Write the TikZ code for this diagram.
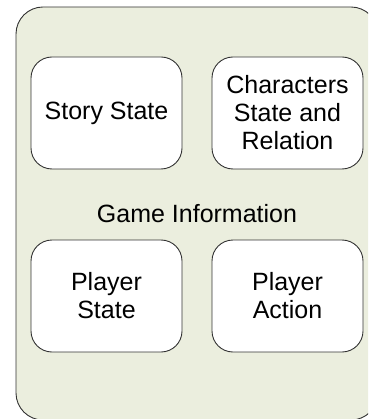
\documentclass[tikz,border=0pt]{standalone}
\usepackage{fontspec}
\setmainfont{Liberation Sans}
\definecolor{infofill}{RGB}{235,238,222}
\begin{document}
\begin{tikzpicture}[x=1pt,y=-1pt]
        \tikzstyle{infobox}=[rectangle,rounded corners=27pt,line width=0.9pt,draw=black!80,fill=infofill,minimum width=362pt,minimum height=413pt,inner sep=0pt]
        \tikzstyle{part}=[rectangle,rounded corners=21pt,line width=0.9pt,draw=black!80,fill=white,minimum width=151pt,minimum height=112pt,align=center,inner sep=0pt]
        \useasboundingbox (0,0) rectangle (368,419);
        \clip (0,0) rectangle (368,419);
       \begin{scope}[font=\fontsize{25}{28}\selectfont]
         \node [infobox] (info) at (197,213.5) {Game Information};

         \node [part] (story) at (106.5,113) {Story State};
         \node [part] (chars) at (287.5,113) {Characters\\State and\\Relation};
         \node [part] (pstate) at (106.5,296) {Player\\State};
         \node [part] (paction) at (287.5,296) {Player\\Action};
        \end{scope}
      \end{tikzpicture}
\end{document}
